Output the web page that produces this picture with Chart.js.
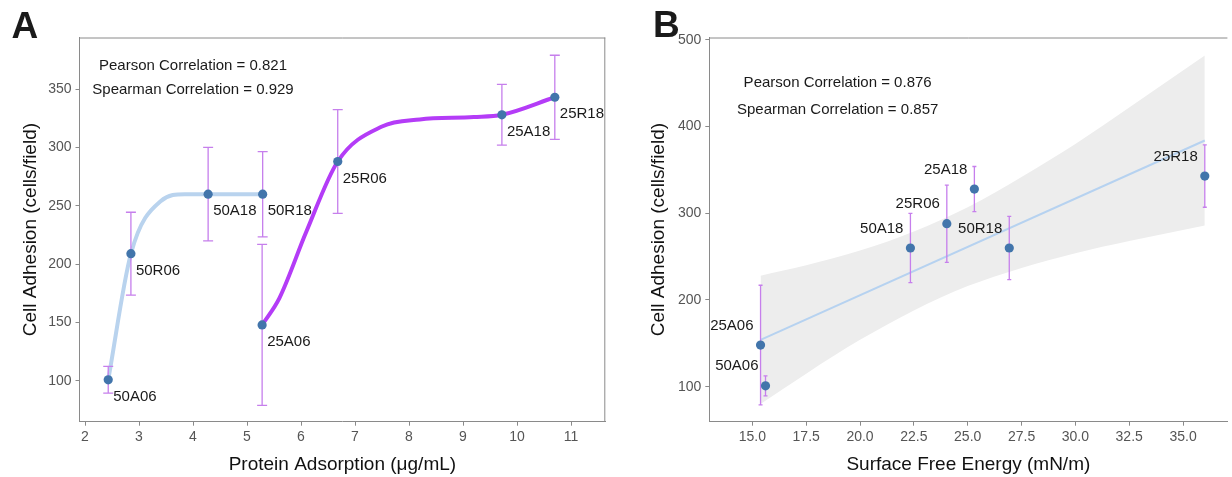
<!DOCTYPE html>
<html>
<head>
<meta charset="utf-8">
<script src="https://cdn.jsdelivr.net/npm/chart.js@4.4.1/dist/chart.umd.min.js"></script>
<style>
html, body { margin: 0; padding: 0; background: #fff; overflow: hidden; }
#wrapA { position: absolute; left: 0; top: 0; width: 620px; height: 477px; }
#wrapB { position: absolute; left: 620px; top: 0; width: 612px; height: 477px; }
</style>
</head>
<body>
<div id="wrapA"><canvas id="chartA" width="620" height="477"></canvas></div>
<div id="wrapB"><canvas id="chartB" width="612" height="477"></canvas></div>
<script>
const samples = ['50A06', '50R06', '50A18', '50R18', '25A06', '25R06', '25A18', '25R18'];
const adhesion = [101, 209, 260, 260, 148, 288, 328, 343];
const adhesionSd = [11.5, 35.5, 40, 36.5, 69, 44.5, 26, 36];
const protein = [2.43, 2.85, 4.28, 5.29, 5.28, 6.68, 9.72, 10.70];
const surfaceEnergy = [15.61, null, 22.34, 26.93, 15.38, 24.03, 25.31, 36.01];

// smoothed trend curves in panel A
const blueCurveX = [2.43, 2.85, 3.4, 3.85, 4.28, 5.29];
const blueCurveY = [101, 209, 254, 260, 260, 260];
const purpleCurveX = [5.28, 5.6, 6.1, 6.68, 7.5, 8.2, 9.2, 9.72, 10.7];
const purpleCurveY = [148, 171, 228, 288, 318, 324, 326, 328, 343];

// linear fit and confidence band in panel B
const fitX = [15.38, 36.01];
const fitY = [154, 384];
const bandX = [15.38, 17.5, 20, 22.5, 25, 27.5, 30, 32.5, 36.01];
const bandUpper = [228, 240, 257, 279, 307, 342, 380, 422, 482];
const bandLower = [80, 115, 154, 188, 216, 237, 254, 268, 286];

// axis ticks
const xTicksA = [2, 3, 4, 5, 6, 7, 8, 9, 10, 11];
const yTicksA = [100, 150, 200, 250, 300, 350];
const xTicksB = [15, 17.5, 20, 22.5, 25, 27.5, 30, 32.5, 35];
const yTicksB = [100, 200, 300, 400, 500];

const FONT = '"Liberation Sans", Arial, sans-serif';
const AXIS_GREY = '#8a8a8a';
const ERR_COLOR = '#c67fec';
const POINT_COLOR = '#4275ab';

function xy(xs, ys) {
    return xs.map((x, i) => ({ x: x, y: ys[i] })).filter(p => p.x !== null);
}

const extrasPlugin = {
    id: 'extras',
    afterDatasetDraw(chart, args, opts) {
        if (args.index !== opts.errAfter) return;
        const ctx = chart.ctx;
        const xs = chart.scales.x, ys = chart.scales.y;
        ctx.save();
        ctx.strokeStyle = ERR_COLOR;
        ctx.lineWidth = 1.3;
        opts.xs.forEach((xv, i) => {
            if (xv === null) return;
            const px = xs.getPixelForValue(xv);
            const top = ys.getPixelForValue(adhesion[i] + adhesionSd[i]);
            const bot = ys.getPixelForValue(adhesion[i] - adhesionSd[i]);
            ctx.beginPath();
            ctx.moveTo(px, top); ctx.lineTo(px, bot);
            ctx.moveTo(px - opts.cap, top); ctx.lineTo(px + opts.cap, top);
            ctx.moveTo(px - opts.cap, bot); ctx.lineTo(px + opts.cap, bot);
            ctx.stroke();
        });
        ctx.restore();
    },
    afterDraw(chart, args, opts) {
        const ctx = chart.ctx;
        const area = chart.chartArea;
        const xs = chart.scales.x, ys = chart.scales.y;
        ctx.save();
        // frame top / right
        ctx.strokeStyle = AXIS_GREY;
        ctx.lineWidth = 1;
        ctx.beginPath();
        ctx.moveTo(area.left, area.top + 0.5);
        ctx.lineTo(area.right, area.top + 0.5);
        if (opts.frameRight) {
            ctx.moveTo(area.right - 0.5, area.top);
            ctx.lineTo(area.right - 0.5, area.bottom);
        }
        ctx.stroke();

        // point labels
        ctx.fillStyle = '#1a1a1a';
        ctx.font = '15px ' + FONT;
        ctx.textAlign = opts.labelAlign;
        ctx.textBaseline = 'middle';
        opts.xs.forEach((xv, i) => {
            if (xv === null) return;
            const px = xs.getPixelForValue(xv);
            const py = ys.getPixelForValue(adhesion[i]);
            ctx.fillText(samples[i], px + opts.labelDx, py + opts.labelDy);
        });

        // correlation notes
        ctx.textAlign = 'center';
        opts.notes.forEach(n => {
            ctx.fillText(n.text, xs.getPixelForValue(n.x), ys.getPixelForValue(n.y));
        });

        // panel letter
        ctx.font = 'bold 37px "Liberation Sans Narrow", "Liberation Sans", Arial, sans-serif';
        ctx.textAlign = 'left';
        ctx.textBaseline = 'alphabetic';
        ctx.fillStyle = '#1a1a1a';
        ctx.fillText(opts.letter, opts.letterX, opts.letterY);
        ctx.restore();
    }
};

function axes(xmin, xmax, ymin, ymax, xTicks, yTicks, xTitle, yWidth, yTitlePad, xFmt) {
    const grid = { drawOnChartArea: false, drawTicks: true, tickLength: 4, color: AXIS_GREY };
    const tickFont = { family: FONT, size: 14 };
    return {
        x: {
            type: 'linear', min: xmin, max: xmax,
            grid: grid,
            border: { display: true, color: AXIS_GREY, width: 1 },
            afterBuildTicks: s => { s.ticks = xTicks.map(v => ({ value: v })); },
            afterFit: s => { s.height = 55.3; },
            ticks: { color: '#555', font: tickFont, padding: 3, maxRotation: 0, callback: xFmt },
            title: { display: true, text: xTitle, color: '#111', font: { family: FONT, size: 19 }, padding: { top: 0, bottom: 0.6 } }
        },
        y: {
            type: 'linear', min: ymin, max: ymax,
            grid: grid,
            border: { display: true, color: AXIS_GREY, width: 1 },
            afterBuildTicks: s => { s.ticks = yTicks.map(v => ({ value: v })); },
            afterFit: s => { s.width = yWidth; },
            ticks: { color: '#555', font: tickFont, padding: 4 },
            title: { display: true, text: 'Cell Adhesion (cells/field)', color: '#111', font: { family: FONT, size: 19 }, padding: { top: yTitlePad, bottom: 0 } }
        }
    };
}

const chartA = new Chart(document.getElementById('chartA').getContext('2d'), {
    type: 'scatter',
    data: {
        datasets: [{
            data: xy(protein, adhesion),
            pointRadius: 4.6,
            pointBackgroundColor: POINT_COLOR,
            pointBorderWidth: 0
        }, {
            data: xy(blueCurveX, blueCurveY),
            showLine: true,
            cubicInterpolationMode: 'monotone',
            borderColor: '#b9d3ee',
            borderWidth: 4,
            pointRadius: 0
        }, {
            data: xy(purpleCurveX, purpleCurveY),
            showLine: true,
            cubicInterpolationMode: 'monotone',
            borderColor: '#b43cf7',
            borderWidth: 4,
            pointRadius: 0
        }]
    },
    options: {
        responsive: false,
        animation: false,
        events: [],
        layout: { padding: { top: 37.5, right: 14.7, left: 0, bottom: 0 } },
        scales: axes(1.898, 11.635, 65.1, 394.2, xTicksA, yTicksA, 'Protein Adsorption (μg/mL)', 79.5, 19.6),
        plugins: {
            legend: { display: false },
            tooltip: { enabled: false },
            extras: {
                xs: protein, errAfter: 1, cap: 5,
                labelAlign: 'left', labelDx: 5, labelDy: 17,
                frameRight: true,
                notes: [
                    { text: 'Pearson Correlation = 0.821', x: 4.0, y: 370 },
                    { text: 'Spearman Correlation = 0.929', x: 4.0, y: 349.5 }
                ],
                letter: 'A', letterX: 11.5, letterY: 38.3
            }
        }
    },
    plugins: [extrasPlugin]
});

const chartB = new Chart(document.getElementById('chartB').getContext('2d'), {
    type: 'scatter',
    data: {
        datasets: [{
            data: xy(surfaceEnergy, adhesion),
            pointRadius: 4.6,
            pointBackgroundColor: POINT_COLOR,
            pointBorderWidth: 0
        }, {
            data: xy(fitX, fitY),
            showLine: true,
            borderColor: '#b6d2f0',
            borderWidth: 2,
            pointRadius: 0
        }, {
            data: xy(bandX, bandUpper),
            showLine: true,
            cubicInterpolationMode: 'monotone',
            borderWidth: 0,
            borderColor: 'rgba(0,0,0,0)',
            backgroundColor: '#ededed',
            fill: '+1',
            pointRadius: 0
        }, {
            data: xy(bandX, bandLower),
            showLine: true,
            cubicInterpolationMode: 'monotone',
            borderWidth: 0,
            borderColor: 'rgba(0,0,0,0)',
            pointRadius: 0
        }]
    },
    options: {
        responsive: false,
        animation: false,
        events: [],
        layout: { padding: { top: 37.5, right: 0, left: 0, bottom: 0 } },
        scales: axes(13.0, 37.06, 59.6, 502.8, xTicksB, yTicksB, 'Surface Free Energy (mN/m)', 89.3, 27.6, v => v.toFixed(1)),
        plugins: {
            legend: { display: false },
            tooltip: { enabled: false },
            extras: {
                xs: surfaceEnergy, errAfter: 1, cap: 2,
                labelAlign: 'right', labelDx: -7, labelDy: -19.5,
                frameRight: false,
                notes: [
                    { text: 'Pearson Correlation = 0.876', x: 18.96, y: 450 },
                    { text: 'Spearman Correlation = 0.857', x: 18.96, y: 419 }
                ],
                letter: 'B', letterX: 33, letterY: 37.3
            }
        }
    },
    plugins: [extrasPlugin]
});
</script>
</body>
</html>
